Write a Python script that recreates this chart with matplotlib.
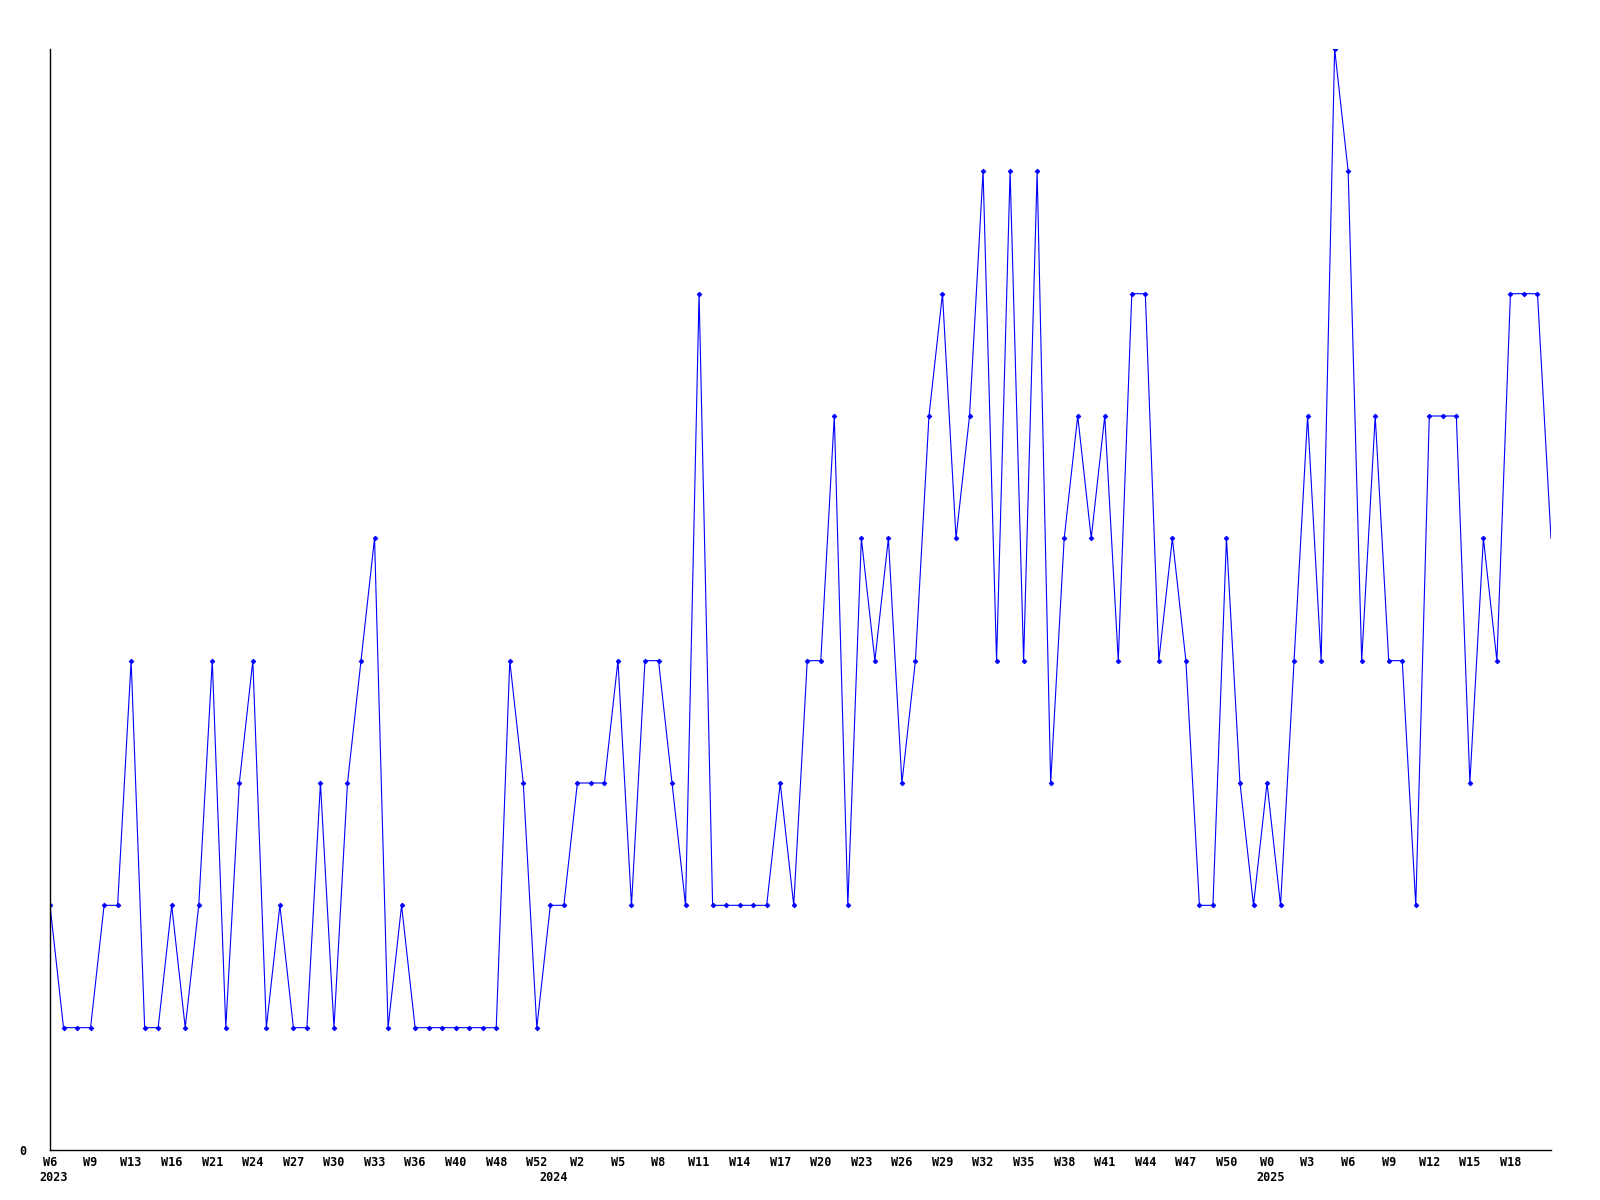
import matplotlib
matplotlib.use("Agg")
import matplotlib.pyplot as plt

# weekly counts, one per point
counts = [2, 1, 1, 1, 2, 2, 4, 1, 1, 2,
          1, 2, 4, 1, 3, 4, 1, 2, 1, 1,
          3, 1, 3, 4, 5, 1, 2, 1, 1, 1,
          1, 1, 1, 1, 4, 3, 1, 2, 2, 3,
          3, 3, 4, 2, 4, 4, 3, 2, 7, 2,
          2, 2, 2, 2, 3, 2, 4, 4, 6, 2,
          5, 4, 5, 3, 4, 6, 7, 5, 6, 8,
          4, 8, 4, 8, 3, 5, 6, 5, 6, 4,
          7, 7, 4, 5, 4, 2, 2, 5, 3, 2,
          3, 2, 4, 6, 4, 9, 8, 4, 6, 4,
          4, 2, 6, 6, 6, 3, 5, 4, 7, 7,
          7, 5]

week_labels = ["W6", "W9", "W13", "W16", "W21", "W24", "W27", "W30", "W33", "W36",
               "W40", "W48", "W52", "W2", "W5", "W8", "W11", "W14", "W17", "W20",
               "W23", "W26", "W29", "W32", "W35", "W38", "W41", "W44", "W47", "W50",
               "W0", "W3", "W6", "W9", "W12", "W15", "W18"]
label_step = 3

years = ["2023", "2024", "2025"]
year_pos = [0, 37, 90]

x = list(range(len(counts)))

fig = plt.figure(figsize=(16, 12), dpi=100)
ax = fig.add_axes([50 / 1600, 50 / 1200, 1501 / 1600, 1101 / 1200])

# last point is drawn without a marker
ax.plot(x, counts, color="#0000ff", linewidth=0.8, marker="D", markersize=2.4,
        markeredgewidth=0.6, markevery=list(range(len(counts) - 1)))

ax.set_xlim(0, len(counts) - 1)
ax.set_ylim(0, max(counts))

for s in ["top", "right"]:
    ax.spines[s].set_visible(False)
for s in ["left", "bottom"]:
    ax.spines[s].set_color("black")
    ax.spines[s].set_linewidth(1.0)

tick_font = {"family": "DejaVu Sans Mono", "weight": "bold", "size": 8.5}

ax.set_xticks(range(0, label_step * len(week_labels), label_step))
ax.set_xticklabels(week_labels, **tick_font)
ax.set_yticks([0])
ax.set_yticklabels(["0"], **tick_font)
ax.tick_params(axis="x", length=0, pad=4)
ax.tick_params(axis="y", length=0, pad=17)

for yr, pos in zip(years, year_pos):
    ax.annotate(yr, xy=(pos, 0), xycoords=("data", "axes fraction"),
                xytext=(-8, -19.5), textcoords="offset points",
                ha="left", va="center", **tick_font)

fig.savefig("out.png", dpi=100)
